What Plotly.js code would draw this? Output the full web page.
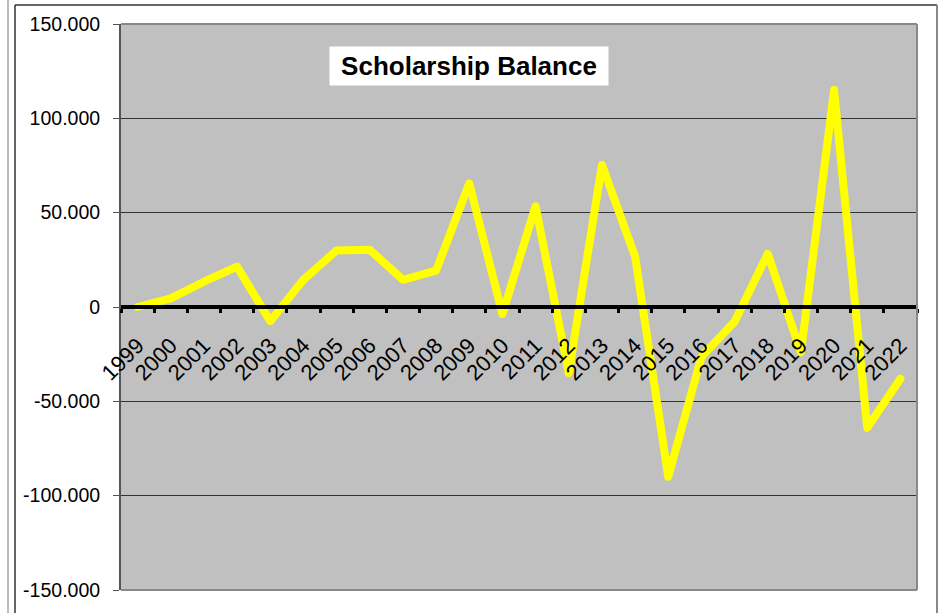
<!DOCTYPE html>
<html>
<head>
<meta charset="utf-8">
<script src="https://cdn.plot.ly/plotly-3.0.1.min.js"></script>
<style>
html,body{margin:0;padding:0;background:#fff;}
#chart{width:946px;height:613px;}
.scatterlayer path.js-line{stroke-linejoin:round !important;stroke-linecap:round !important;}
</style>
</head>
<body>
<div id="chart"></div>
<script>
// Data
const years = ['1999','2000','2001','2002','2003','2004','2005','2006','2007','2008','2009','2010',
               '2011','2012','2013','2014','2015','2016','2017','2018','2019','2020','2021','2022'];
const balance = [0, 4600, 13400, 21400, -7500, 14400, 30000, 30300, 14400, 19300, 65500, -3700,
                 53400, -35000, 75300, 26800, -90000, -26400, -7800, 28200, -24000, 115000, -64000, -38000];
const yTickVals = [-150000, -100000, -50000, 0, 50000, 100000, 150000];
const yTickText = ['-150.000', '-100.000', '-50.000', '0', '50.000', '100.000', '150.000'];
const chartTitle = 'Scholarship Balance';

// pixel -> paper helpers (plot area 121..917 x 24..590)
const L = 121, R = 917, T = 24, B = 590;
const xp = px => (px - L) / (R - L);
const yp = py => (B - py) / (B - T);

const FONT = 'Liberation Sans, Arial, sans-serif';

// invisible companion trace that carries the category labels on a second x axis
const labelTrace = {
  type: 'scatter', mode: 'lines',
  x: years, y: balance,
  xaxis: 'x2', yaxis: 'y',
  line: { color: 'rgba(0,0,0,0)', width: 0 },
  hoverinfo: 'skip', showlegend: false
};

const trace = {
  type: 'scatter',
  mode: 'lines',
  x: years,
  y: balance,
  line: { color: '#FFFF00', width: 8 },
  hoverinfo: 'x+y'
};

const layout = {
  width: 946,
  height: 613,
  margin: { l: L, r: 946 - R, t: T, b: 613 - B, pad: 0 },
  paper_bgcolor: '#FFFFFF',
  plot_bgcolor: '#C0C0C0',
  showlegend: false,
  font: { family: FONT, color: '#000' },
  xaxis: {
    type: 'category',
    anchor: 'free',
    position: 0.5,
    showline: true,
    linecolor: '#000',
    linewidth: 4,
    ticks: 'outside',
    tickson: 'boundaries',
    ticklen: 4,
    tickwidth: 3,
    tickcolor: '#000',
    showticklabels: false,
    showgrid: false,
    zeroline: false,
    range: [-0.5, years.length - 0.5],
    fixedrange: true
  },
  xaxis2: {
    type: 'category',
    overlaying: 'x',
    anchor: 'free',
    position: 0.5,
    side: 'bottom',
    showline: false,
    ticks: 'outside',
    ticklen: 16,
    tickcolor: 'rgba(0,0,0,0)',
    tickangle: -45,
    tickfont: { size: 22, color: '#000', family: FONT },
    showgrid: false,
    zeroline: false,
    range: [-0.5, years.length - 0.5],
    fixedrange: true
  },
  yaxis: {
    range: [-150000, 150000],
    tickmode: 'array',
    tickvals: yTickVals,
    ticktext: yTickText,
    showgrid: true,
    gridcolor: '#333333',
    gridwidth: 1,
    zeroline: false,
    showline: true,
    linecolor: '#555555',
    linewidth: 2,
    ticks: 'outside',
    ticklen: 6,
    tickwidth: 1,
    tickcolor: '#555555',
    ticklabelstandoff: 9,
    tickfont: { size: 19.5, color: '#000', family: FONT },
    fixedrange: true
  },
  annotations: [{
    xref: 'paper', yref: 'paper',
    x: xp(469), y: yp(66),
    xanchor: 'center', yanchor: 'middle',
    text: chartTitle,
    showarrow: false,
    bgcolor: '#FFFFFF',
    width: 278, height: 38,
    borderpad: 0,
    font: { size: 26, weight: 'bold', color: '#000', family: FONT }
  }],
  shapes: [
    // plot area frame (top/right/bottom)
    { type: 'line', xref: 'paper', yref: 'paper', x0: 0, x1: 1, y0: 1, y1: 1, line: { color: '#888888', width: 2 } },
    { type: 'line', xref: 'paper', yref: 'paper', x0: 1, x1: 1, y0: 0, y1: 1, line: { color: '#888888', width: 2 } },
    { type: 'line', xref: 'paper', yref: 'paper', x0: 0, x1: 1, y0: 0, y1: 0, line: { color: '#888888', width: 2 } },
    // outer chart frame
    { type: 'line', xref: 'paper', yref: 'paper', x0: xp(15), x1: xp(937), y0: yp(5), y1: yp(5), line: { color: '#333333', width: 1.5 } },
    { type: 'line', xref: 'paper', yref: 'paper', x0: xp(15), x1: xp(15), y0: yp(5), y1: yp(620), line: { color: '#333333', width: 1.5 } },
    { type: 'line', xref: 'paper', yref: 'paper', x0: xp(937), x1: xp(937), y0: yp(5), y1: yp(620), line: { color: '#888888', width: 2 } },
    { type: 'line', xref: 'paper', yref: 'paper', x0: xp(8), x1: xp(8), y0: yp(-5), y1: yp(620), line: { color: '#777777', width: 1 } }
  ]
};

Plotly.newPlot('chart', [labelTrace, trace], layout, { displayModeBar: false, staticPlot: true });
</script>
</body>
</html>
